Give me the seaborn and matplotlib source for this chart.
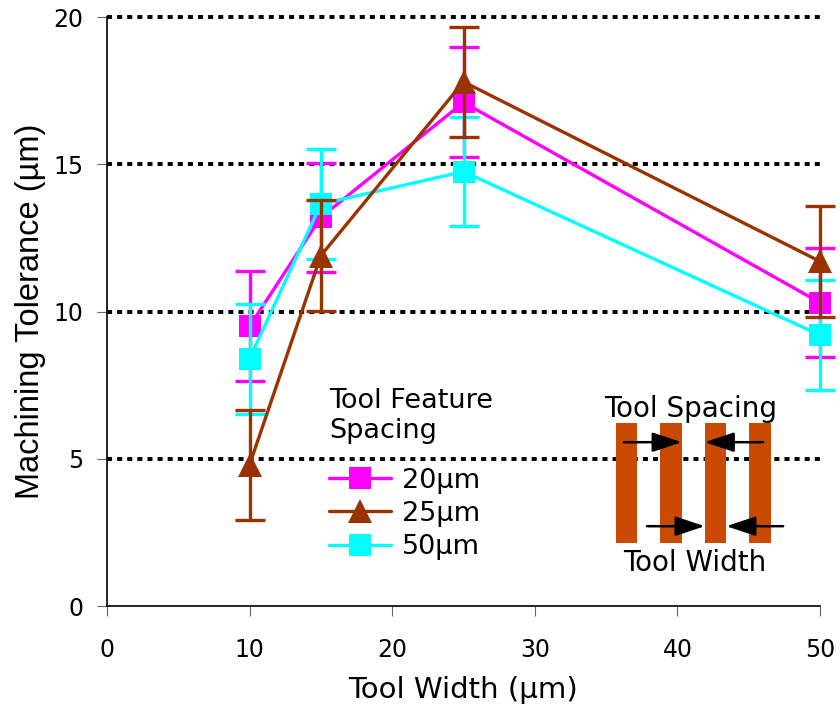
import numpy as np
import pandas as pd
import matplotlib
matplotlib.use("Agg")
import matplotlib.pyplot as plt
import seaborn as sns
from matplotlib.lines import Line2D
from matplotlib.patches import Rectangle

# Measured machining tolerance vs. tool width, one series per feature spacing
tool_width = [10, 15, 25, 50]
spacing_labels = ["20µm", "25µm", "50µm"]
tol_20 = [9.5, 13.2, 17.1, 10.3]
tol_25 = [4.8, 11.9, 17.8, 11.7]
tol_50 = [8.4, 13.65, 14.75, 9.2]
err_20 = [1.87, 1.85, 1.87, 1.85]
err_25 = [1.87, 1.88, 1.87, 1.88]
err_50 = [1.87, 1.87, 1.85, 1.87]
x_ticks = [0, 10, 20, 30, 40, 50]
y_ticks = [0, 5, 10, 15, 20]

df = pd.DataFrame({
    "Tool Width": tool_width * 3,
    "Tolerance": tol_20 + tol_25 + tol_50,
    "err": err_20 + err_25 + err_50,
    "Spacing": np.repeat(spacing_labels, len(tool_width)),
})

colors = {"20µm": "#FF00FF", "25µm": "#993300", "50µm": "#00FFFF"}
markers = {"20µm": "s", "25µm": "^", "50µm": "s"}
msizes = {"20µm": 16.5, "25µm": 17.5, "50µm": 16.5}

sns.set_style("ticks")
plt.rcParams["font.family"] = ["DejaVu Sans"]
plt.rcParams.update({"text.color": "black", "axes.labelcolor": "black",
                     "xtick.labelcolor": "black", "ytick.labelcolor": "black"})

fig = plt.figure(figsize=(8.4, 7.08), dpi=100)
ax = fig.add_axes([107 / 840, 1 - 606 / 708, 713 / 840, 589 / 708])

LW = 2.4
# draw order: 20 µm underneath, 25 µm on top
for lab in ["20µm", "50µm", "25µm"]:
    sub = df[df["Spacing"] == lab]
    sns.lineplot(data=sub, x="Tool Width", y="Tolerance", color=colors[lab],
                 marker=markers[lab], markersize=msizes[lab], markeredgewidth=0,
                 linewidth=LW, errorbar=None, legend=False, ax=ax)
    ax.lines[-1].set_clip_on(False)
    eb = ax.errorbar(sub["Tool Width"], sub["Tolerance"], yerr=sub["err"],
                     fmt="none", ecolor=colors[lab], elinewidth=LW,
                     capsize=11, capthick=LW)
    for cap in eb[1]:
        cap.set_clip_on(False)
    for col in eb[2]:
        col.set_clip_on(False)

ax.set_xlim(0, 50)
ax.set_ylim(0, 20)
ax.set_xticks(x_ticks)
ax.set_yticks(y_ticks)
ax.tick_params(axis="both", labelsize=17, length=7, width=0.8, color="#666666")
ax.tick_params(axis="y", pad=10)
ax.tick_params(axis="x", pad=16)

# dotted horizontal grid above the zero line
ax.set_axisbelow(True)
ax.yaxis.grid(True, color="black", linewidth=2.8, linestyle=(0, (1.3, 1.3)))
ax.xaxis.grid(False)
for t, v in zip(ax.yaxis.get_major_ticks(), y_ticks):
    t.gridline.set_clip_on(False)
    if v == 0:
        t.gridline.set_visible(False)

sns.despine(ax=ax)
for s in ("left", "bottom"):
    ax.spines[s].set_linewidth(1.2)
    ax.spines[s].set_color("black")

ax.set_xlabel("Tool Width (µm)", fontsize=21, labelpad=10)
ax.set_ylabel("Machining Tolerance (µm)", fontsize=23.5,
              family=["Liberation Sans", "DejaVu Sans"], labelpad=5)

handles = [Line2D([], [], color=colors[l], marker=markers[l], markersize=msizes[l],
                  markeredgewidth=0, linewidth=LW) for l in spacing_labels]
leg = ax.legend(handles, spacing_labels, title="Tool Feature\nSpacing",
                loc="upper left", bbox_to_anchor=((329 - 107) / 713, (606 - 388) / 589),
                frameon=False, alignment="left", fontsize=19.5, title_fontsize=19.5,
                handlelength=2.3, handletextpad=0.4, labelspacing=0.27,
                borderaxespad=0, borderpad=0)
leg._legend_box.sep = 17

# Schematic of the tool: four bars with spacing and width arrows
ins = fig.add_axes([595.3 / 840, (708 - 585) / 708, 200.3 / 840, 210 / 708])
ins.set_xlim(-0.7, 3.8)
ins.set_ylim(-0.35, 1.4)
ins.axis("off")
bw = 0.485
for i in range(4):
    ins.add_patch(Rectangle((i - bw / 2, 0), bw, 1, color="#C94A00", lw=0))
arrow = dict(arrowstyle="-|>,head_length=0.9,head_width=0.3", mutation_scale=20,
             lw=1.8, color="black", shrinkA=0, shrinkB=0)
ins.annotate("", xy=(1 + bw / 2, 0.84), xytext=(-0.06, 0.84), arrowprops=arrow)
ins.annotate("", xy=(2 - bw / 2, 0.84), xytext=(3.07, 0.84), arrowprops=arrow)
ins.annotate("", xy=(2 - bw / 2, 0.14), xytext=(0.46, 0.14), arrowprops=arrow)
ins.annotate("", xy=(2 + bw / 2, 0.14), xytext=(3.52, 0.14), arrowprops=arrow)
ins.text(1.44, 1.05, "Tool Spacing", ha="center", va="baseline", fontsize=20)
ins.text(1.54, -0.05, "Tool Width", ha="center", va="top", fontsize=20)

fig.savefig("out.png", dpi=100)
